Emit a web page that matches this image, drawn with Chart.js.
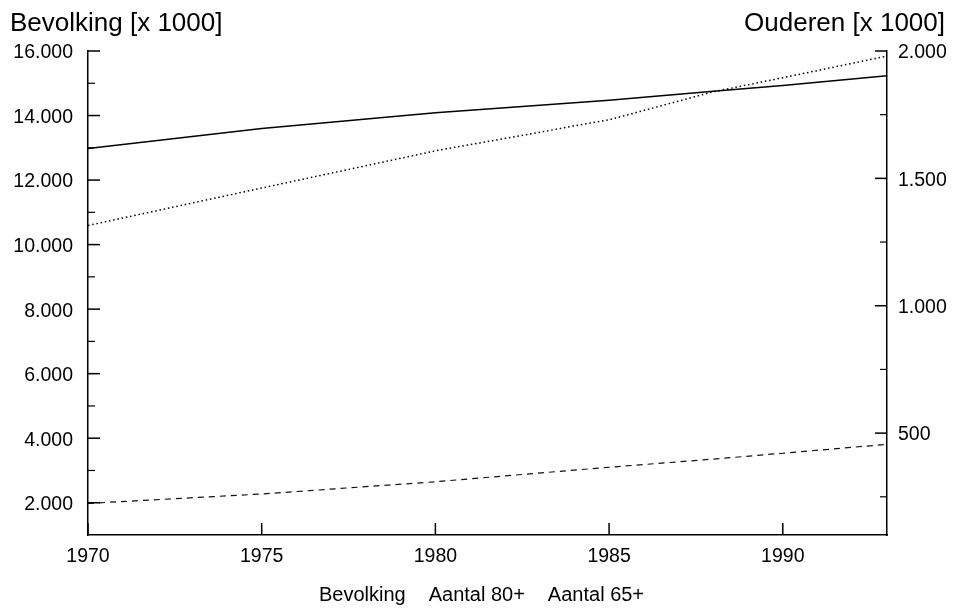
<!DOCTYPE html>
<html>
<head>
<meta charset="utf-8">
<title>Bevolking en ouderen</title>
<script src="https://cdn.jsdelivr.net/npm/chart.js@4.4.1/dist/chart.umd.min.js"></script>
<style>
  html, body { margin: 0; padding: 0; background: #fff; overflow: hidden; }
  #wrap { position: relative; width: 953px; height: 615px; }
</style>
</head>
<body>
<div id="wrap"><canvas id="chart-bevolking"></canvas></div>
<script>
// Bevolking en ouderen 1970-1993 (alle waarden x 1000)

const years = [1970, 1975, 1980, 1985, 1988, 1990, 1993];
const bevolking = [12975, 13600, 14090, 14475, 14750, 14930, 15230];
const aantal80 = [224, 261, 309, 366, 398, 421, 456];
const aantal65 = [1315, 1462, 1608, 1730, 1840, 1895, 1980];

const yearTicks = [1970, 1975, 1980, 1985, 1990];
const leftTicks = [2000, 4000, 6000, 8000, 10000, 12000, 14000, 16000];
const leftMinor = [3000, 5000, 7000, 9000, 11000, 13000, 15000];
const rightTicks = [500, 1000, 1500, 2000];
const rightMinor = [250, 750, 1250, 1750];

const leftTitle = 'Bevolking [x 1000]';
const rightTitle = 'Ouderen [x 1000]';

const fontFace = "'Liberation Sans', Arial, Helvetica, sans-serif";
Chart.defaults.font.family = fontFace;
Chart.defaults.color = '#000';

// thousands with a dot, Dutch style
const fmt = (v) => String(v).replace(/\B(?=(\d{3})+(?!\d))/g, '.');
const toPoints = (vals) => vals.map((v, i) => ({ x: years[i], y: v }));

// inward tick marks + the two axis titles
const axisDecor = {
    id: 'axisDecor',
    afterDraw(chart) {
        const ctx = chart.ctx;
        const area = chart.chartArea;
        const yl = chart.scales.yLeft;
        const yr = chart.scales.yRight;
        const xs = chart.scales.x;
        ctx.save();
        ctx.strokeStyle = '#000';

        const hTick = (x, y, len) => {
            ctx.beginPath();
            ctx.moveTo(x, y);
            ctx.lineTo(x + len, y);
            ctx.stroke();
        };

        ctx.lineWidth = 1.5;
        leftTicks.forEach(v => hTick(area.left, yl.getPixelForValue(v), 12));
        rightTicks.forEach(v => hTick(area.right, yr.getPixelForValue(v), -12));
        yearTicks.forEach(v => {
            const px = xs.getPixelForValue(v);
            ctx.beginPath();
            ctx.moveTo(px, area.bottom);
            ctx.lineTo(px, area.bottom - 12);
            ctx.stroke();
        });

        ctx.lineWidth = 1.2;
        leftMinor.forEach(v => hTick(area.left, yl.getPixelForValue(v), 7));
        rightMinor.forEach(v => hTick(area.right, yr.getPixelForValue(v), -7));

        ctx.fillStyle = '#000';
        ctx.font = '26px ' + fontFace;
        ctx.textBaseline = 'alphabetic';
        ctx.textAlign = 'left';
        ctx.fillText(leftTitle, 10, 31);
        ctx.textAlign = 'right';
        ctx.fillText(rightTitle, 945, 31);
        ctx.restore();
    }
};

function initChart() {
    const canvas = document.getElementById('chart-bevolking');
    const ctx = canvas.getContext('2d');

    new Chart(ctx, {
        type: 'line',
        data: {
            datasets: [{
                label: 'Bevolking',
                yAxisID: 'yLeft',
                borderColor: '#000',
                borderWidth: 1.5,
                pointRadius: 0,
                fill: false,
                tension: 0,
                data: toPoints(bevolking)
            }, {
                label: 'Aantal 80+',
                yAxisID: 'yRight',
                borderColor: '#111',
                borderWidth: 1.2,
                borderDash: [6, 5],
                pointRadius: 0,
                fill: false,
                tension: 0,
                data: toPoints(aantal80)
            }, {
                label: 'Aantal 65+',
                yAxisID: 'yRight',
                borderColor: '#000',
                borderWidth: 1.5,
                borderDash: [1.5, 2.8],
                pointRadius: 0,
                fill: false,
                tension: 0,
                data: toPoints(aantal65)
            }]
        },
        options: {
            responsive: true,
            maintainAspectRatio: false,
            animation: false,
            layout: { padding: { top: 51, left: 0, right: 0, bottom: 0 } },
            plugins: {
                tooltip: { enabled: false },
                legend: {
                    position: 'bottom',
                    labels: {
                        color: '#000',
                        font: { size: 20 },
                        boxWidth: 0,
                        boxHeight: 0,
                        padding: 13,
                        generateLabels: (chart) => {
                            const items = Chart.defaults.plugins.legend.labels.generateLabels(chart);
                            items.forEach(it => {
                                it.fillStyle = 'rgba(0,0,0,0)';
                                it.strokeStyle = 'rgba(0,0,0,0)';
                                it.lineWidth = 0;
                                it.lineDash = [];
                            });
                            return items;
                        }
                    }
                }
            },
            scales: {
                x: {
                    type: 'linear',
                    position: 'bottom',
                    min: 1970,
                    max: 1993,
                    grid: { display: false, drawTicks: false },
                    border: { display: true, color: '#000', width: 1.5 },
                    afterBuildTicks: (scale) => { scale.ticks = yearTicks.map(v => ({ value: v })); },
                    afterFit: (scale) => { scale.height = 37; },
                    ticks: {
                        autoSkip: false,
                        maxRotation: 0,
                        padding: 10,
                        font: { size: 19.5 },
                        callback: (val) => String(val)
                    }
                },
                yLeft: {
                    type: 'linear',
                    position: 'left',
                    min: 1000,
                    max: 16000,
                    grid: { display: false, drawTicks: false },
                    border: { display: true, color: '#000', width: 1.5 },
                    afterBuildTicks: (scale) => { scale.ticks = leftTicks.map(v => ({ value: v })); },
                    afterFit: (scale) => { scale.width = 88; },
                    ticks: {
                        autoSkip: false,
                        padding: 15,
                        labelOffset: 2,
                        font: { size: 19.5 },
                        callback: (val) => fmt(val)
                    }
                },
                yRight: {
                    type: 'linear',
                    position: 'right',
                    min: 100,
                    max: 2000,
                    grid: { display: false, drawTicks: false },
                    border: { display: true, color: '#000', width: 1.5 },
                    afterBuildTicks: (scale) => { scale.ticks = rightTicks.map(v => ({ value: v })); },
                    afterFit: (scale) => { scale.width = 66; },
                    ticks: {
                        autoSkip: false,
                        padding: 11,
                        labelOffset: 2,
                        font: { size: 19.5 },
                        callback: (val) => fmt(val)
                    }
                }
            }
        },
        plugins: [axisDecor]
    });
}

window.addEventListener('DOMContentLoaded', () => {
    initChart();
});
</script>
</body>
</html>
